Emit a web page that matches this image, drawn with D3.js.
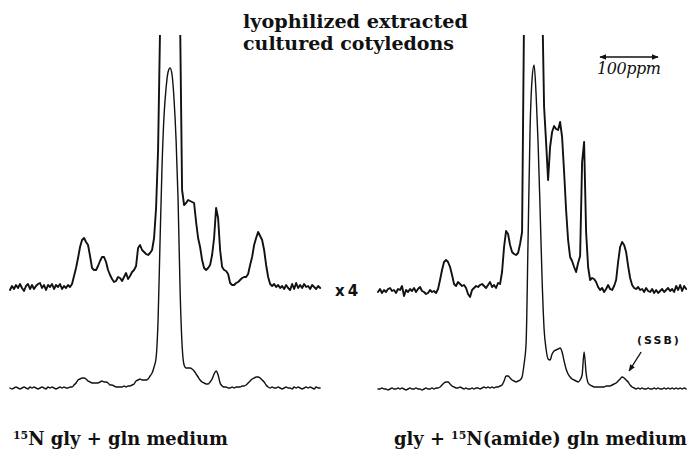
<!DOCTYPE html>
<html>
<head>
<meta charset="utf-8">
<title>15N NMR of lyophilized extracted cultured cotyledons</title>
<script src="https://d3js.org/d3.v7.min.js"></script>
<style>
  body { margin: 0; background: #fff; }
  svg { display: block; }
  .trace { fill: none; stroke: #111; stroke-linejoin: round; stroke-linecap: round; }
  .upper { stroke-width: 1.9; }
  .lower { stroke-width: 1.4; }
  .title { font-family: "DejaVu Serif"; font-weight: bold; font-size: 18px; fill: #111; }
  .label { font-family: "DejaVu Serif"; font-weight: bold; font-size: 18px; fill: #111; }
  .gain { font-family: "DejaVu Sans"; font-weight: bold; font-size: 15px; letter-spacing: 3px; fill: #111; }
  .ssb { font-family: "DejaVu Sans"; font-weight: bold; font-size: 11px; letter-spacing: 2px; fill: #111; }
  .bar { font-family: "DejaVu Serif"; font-style: italic; font-size: 16px; fill: #111; }
</style>
</head>
<body>
<script>
// Spectra sampled every 3.45 ppm (about 2 px), heights in arbitrary units
const shiftStep = 3.45;
const spanPpm = 535;
const scaleBarPpm = 100;

// 15N gly + gln medium, x4 trace (clipped at the top) and full trace
const leftUpper = [
  -2, 2, -1, 3, 0, 4, 0, -3, 2, 4,
  -1, 3, -1, 2, 4, 5, 0, 3, -2, 3,
  1, 4, -1, 3, 1, 4, -1, 2, 0, 3,
  1, 4, 12, 20, 30, 41, 48, 50, 46, 43,
  32, 20, 18, 18, 22, 27, 31, 31, 26, 18,
  13, 9, 6, 7, 11, 10, 7, 11, 15, 9,
  12, 16, 18, 22, 40, 43, 38, 36, 34, 33,
  35, 38, 50, 80, 138, 260, 700, 950, 1150, 1260,
  1280, 1240, 1100, 900, 690, 268, 98, 83, 85, 88,
  87, 86, 85, 66, 50, 41, 28, 20, 18, 20,
  23, 33, 50, 80, 70, 38, 21, 18, 17, 14,
  5, 3, 3, 5, 6, 8, 10, 11, 11, 14,
  23, 31, 43, 50, 56, 52, 48, 38, 23, 11,
  4, 2, 4, 1, 3, 0, 2, -1, 3, 0,
  -2, 4, -1, 5, 0, 3, 0, 4, 1, 2,
  -1, 3, 1, -1, 2, 0
];
const leftLower = [
  0, -1, 0, 1, 0, -1, 0, 1, 0, -1,
  1, 0, 1, 0, -1, 0, 1, 0, -1, 1,
  0, 1, 0, -1, 0, 1, 0, 1, 0, 0,
  1, 1, 3, 5, 8, 9, 10, 10, 9, 7,
  6, 5, 5, 5, 5, 6, 7, 6, 6, 5,
  3, 3, 2, 1, 1, 1, 1, 2, 1, 2,
  2, 3, 4, 7, 8, 9, 8, 8, 8, 9,
  12, 15, 21, 30, 68, 148, 223, 273, 300, 316,
  320, 313, 288, 248, 188, 98, 43, 23, 20, 20,
  20, 19, 17, 14, 11, 8, 6, 5, 4, 4,
  6, 9, 14, 17, 13, 5, 2, 1, 1, 0,
  0, 1, 0, 1, 1, 1, 2, 2, 3, 5,
  7, 9, 10, 11, 11, 10, 8, 6, 3, 1,
  0, 1, 0, 0, 1, 0, -1, 0, 1, 0,
  0, -1, 1, 0, 1, 0, -1, 0, 1, 0,
  1, 0, -1, 1, 0, 0
];

// gly + 15N(amide) gln medium
const rightUpper = [
  0, 3, -1, 2, 0, 3, 4, 1, 2, -1,
  3, 2, 6, -4, 2, 0, 3, 1, 4, 0,
  3, 5, 1, 0, -2, -1, 2, 0, 1, -1,
  3, 12, 22, 30, 32, 30, 25, 17, 8, 6,
  10, 8, 6, 7, 4, -2, -5, 2, 4, 6,
  5, 7, 8, 6, 4, 7, 10, 5, 7, 4,
  9, 8, 20, 45, 61, 58, 47, 40, 38, 37,
  39, 48, 60, 280, 600, 900, 1150, 1270, 1290, 1200,
  1000, 700, 300, 185, 150, 112, 145, 160, 166, 163,
  162, 170, 155, 120, 82, 52, 35, 31, 25, 20,
  29, 36, 130, 150, 60, 25, 12, 14, 13, 10,
  5, 2, 4, 0, 3, 7, 3, 2, 6, 12,
  30, 45, 50, 47, 40, 26, 14, 7, 4, 3,
  5, 2, 3, 0, 4, 1, 0, 3, -1, 2,
  -1, 1, 3, 0, 2, 4, 1, 3, 0, 6,
  2, 7, 1, 6, 3
];
const rightLower = [
  0, 0, 1, 0, 0, -1, 0, 1, 0, 0,
  1, 0, 1, 0, -1, 0, 1, 0, 0, 1,
  0, 0, -1, 0, 1, 0, 0, 1, 0, 1,
  1, 2, 4, 6, 7, 7, 5, 3, 2, 1,
  1, 2, 1, 0, 1, 0, 0, 1, 0, 1,
  1, 0, 1, 2, 1, 2, 1, 2, 1, 2,
  2, 3, 4, 8, 13, 13, 11, 9, 8, 7,
  8, 9, 12, 25, 45, 150, 260, 310, 324, 295,
  246, 180, 110, 60, 40, 30, 29, 35, 38, 39,
  40, 41, 37, 28, 20, 15, 12, 10, 9, 8,
  7, 9, 14, 37, 16, 6, 4, 3, 2, 2,
  2, 2, 2, 2, 3, 3, 3, 4, 5, 6,
  8, 10, 12, 11, 9, 7, 4, 2, 1, 0,
  1, 0, 1, 0, 0, 1, 0, 0, 1, 0,
  1, 0, 0, 1, 0, 1, 0, 1, 0, 1,
  0, 1, 0, 1, 0
];

// Text
const titleLines = ["lyophilized extracted", "cultured cotyledons"];
const gainLabel = "x4";
const ssbLabel = "(SSB)";
const ssbIndex = 123;   // spinning sideband point in rightLower
const scaleBarLabel = "100ppm";
const leftLabel = [["15", true], ["N gly + gln medium", false]];
const rightLabel = [["gly + ", false], ["15", true], ["N(amide) gln medium", false]];

const width = 692, height = 451;

var svg = d3.select("body").append("svg")
  .attr("width", width)
  .attr("height", height);

svg.append("rect").attr("width", width).attr("height", height).attr("fill", "#fff");

// Top of the x4 traces is cut off
svg.append("clipPath").attr("id", "cut")
  .append("rect").attr("x", 0).attr("y", 35).attr("width", width).attr("height", height - 35);

// Arrow head for the scale bar and the SSB pointer
svg.append("defs").append("marker")
  .attr("id", "head")
  .attr("viewBox", "0 0 10 10")
  .attr("refX", 9).attr("refY", 5)
  .attr("markerWidth", 7).attr("markerHeight", 7)
  .attr("markerUnits", "userSpaceOnUse")
  .attr("orient", "auto-start-reverse")
  .append("path").attr("d", "M0,1 L10,5 L0,9 z").attr("fill", "#111");

var panels = [
  {upper: leftUpper, lower: leftLower, x0: 10, upperBase: 288, lowerBase: 388},
  {upper: rightUpper, lower: rightLower, x0: 378, upperBase: 292, lowerBase: 389}
];

panels.forEach(function(p) {
  p.x = d3.scaleLinear().domain([0, spanPpm]).range([p.x0, p.x0 + spanPpm * 0.58]);
  p.yUp = d3.scaleLinear().domain([0, 100]).range([p.upperBase, p.upperBase - 100]);
  p.yLow = d3.scaleLinear().domain([0, 100]).range([p.lowerBase, p.lowerBase - 100]);

  var lineUp = d3.line()
    .x(function(d, i) { return p.x(i * shiftStep); })
    .y(function(d) { return p.yUp(d); });
  var lineLow = d3.line()
    .curve(d3.curveMonotoneX)
    .x(function(d, i) { return p.x(i * shiftStep); })
    .y(function(d) { return p.yLow(d); });

  svg.append("path")
    .attr("class", "trace upper")
    .attr("clip-path", "url(#cut)")
    .datum(p.upper)
    .attr("d", lineUp);

  svg.append("path")
    .attr("class", "trace lower")
    .datum(p.lower)
    .attr("d", lineLow);
});

var right = panels[1];

////////// TITLE //////////
var titleWidths = [225, 211];
svg.selectAll(".title").data(titleLines).enter().append("text")
  .attr("class", "title")
  .attr("x", 243)
  .attr("y", function(d, i) { return 28 + i * 22; })
  .attr("textLength", function(d, i) { return titleWidths[i]; })
  .attr("lengthAdjust", "spacingAndGlyphs")
  .text(function(d) { return d; });

////////// x4 //////////
svg.append("text").attr("class", "gain")
  .attr("x", 335).attr("y", 296)
  .text(gainLabel);

////////// SCALE BAR //////////
var barLen = right.x(scaleBarPpm) - right.x(0);
svg.append("line")
  .attr("x1", 600).attr("x2", 600 + barLen)
  .attr("y1", 57).attr("y2", 57)
  .attr("stroke", "#111").attr("stroke-width", 1.6)
  .attr("marker-start", "url(#head)")
  .attr("marker-end", "url(#head)");
svg.append("text").attr("class", "bar")
  .attr("x", 629).attr("y", 74)
  .attr("text-anchor", "middle")
  .attr("textLength", 64)
  .text(scaleBarLabel);

////////// SSB //////////
var tipX = right.x(ssbIndex * shiftStep) + 5;
var tipY = right.yLow(rightLower[ssbIndex]) - 7;
svg.append("line")
  .attr("x1", tipX + 12).attr("y1", tipY - 19)
  .attr("x2", tipX).attr("y2", tipY)
  .attr("stroke", "#111").attr("stroke-width", 1.4)
  .attr("marker-end", "url(#head)");
svg.append("text").attr("class", "ssb")
  .attr("x", 659).attr("y", 344)
  .attr("text-anchor", "middle")
  .text(ssbLabel);

////////// PANEL LABELS //////////
function addLabel(parts, x, len) {
  var t = svg.append("text").attr("class", "label")
    .attr("x", x).attr("y", 445)
    .attr("textLength", len)
    .attr("lengthAdjust", "spacingAndGlyphs");
  parts.forEach(function(d) {
    var s = t.append("tspan").text(d[0]);
    if (d[1]) s.attr("font-size", "11px").attr("dy", -6);
    else s.attr("dy", d === parts[0] ? 0 : 6);
  });
}
addLabel(leftLabel, 13, 215);
addLabel(rightLabel, 394, 293);
</script>
</body>
</html>
